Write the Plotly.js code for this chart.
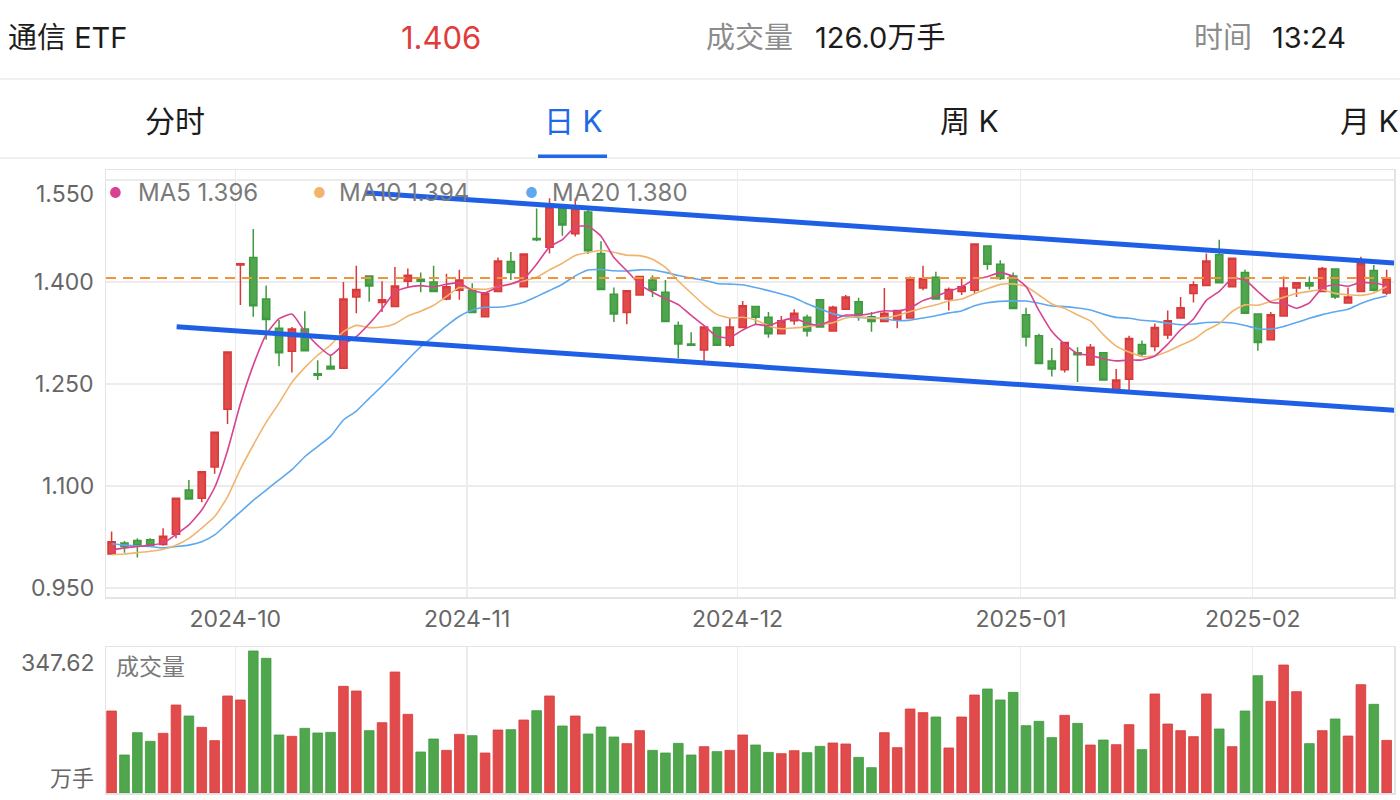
<!DOCTYPE html>
<html><head><meta charset="utf-8">
<script src="https://cdn.plot.ly/plotly-3.0.1.min.js"></script>
<style>html,body{margin:0;padding:0;background:#fff;}#chart{width:1400px;height:800px;}</style>
</head><body><div id="chart"></div>
<script>
// ---------- data ----------
const dates = [
'2024-09-13','2024-09-18','2024-09-19','2024-09-20','2024-09-23','2024-09-24','2024-09-25','2024-09-26','2024-09-27','2024-09-30',
'2024-10-08','2024-10-09','2024-10-10','2024-10-11','2024-10-14','2024-10-15','2024-10-16','2024-10-17','2024-10-18','2024-10-21',
'2024-10-22','2024-10-23','2024-10-24','2024-10-25','2024-10-28','2024-10-29','2024-10-30','2024-10-31',
'2024-11-01','2024-11-04','2024-11-05','2024-11-06','2024-11-07','2024-11-08','2024-11-11','2024-11-12','2024-11-13','2024-11-14',
'2024-11-15','2024-11-18','2024-11-19','2024-11-20','2024-11-21','2024-11-22','2024-11-25','2024-11-26','2024-11-27','2024-11-28','2024-11-29',
'2024-12-02','2024-12-03','2024-12-04','2024-12-05','2024-12-06','2024-12-09','2024-12-10','2024-12-11','2024-12-12','2024-12-13',
'2024-12-16','2024-12-17','2024-12-18','2024-12-19','2024-12-20','2024-12-23','2024-12-24','2024-12-25','2024-12-26','2024-12-27',
'2024-12-30','2024-12-31',
'2025-01-02','2025-01-03','2025-01-06','2025-01-07','2025-01-08','2025-01-09','2025-01-10','2025-01-13','2025-01-14','2025-01-15',
'2025-01-16','2025-01-17','2025-01-20','2025-01-21','2025-01-22','2025-01-23','2025-01-24','2025-01-27',
'2025-02-05','2025-02-06','2025-02-07','2025-02-10','2025-02-11','2025-02-12','2025-02-13','2025-02-14','2025-02-17','2025-02-18','2025-02-19'
];
const openP = [
1.000,1.016,1.020,1.021,1.014,1.029,1.094,1.082,1.128,1.213,
1.425,1.436,1.375,1.332,1.298,1.331,1.265,1.276,1.273,1.378,
1.409,1.370,1.364,1.401,1.404,1.400,1.375,1.388,
1.388,1.349,1.386,1.430,1.393,1.464,1.451,1.508,1.471,1.503,
1.442,1.382,1.355,1.381,1.403,1.385,1.336,1.309,1.300,1.333,1.307,
1.333,1.364,1.348,1.324,1.343,1.348,1.374,1.328,1.360,1.371,
1.349,1.342,1.344,1.347,1.391,1.407,1.375,1.386,1.388,1.453,
1.426,1.409,
1.352,1.321,1.284,1.271,1.296,1.278,1.296,1.240,1.257,1.308,
1.305,1.322,1.347,1.383,1.395,1.440,1.393,1.414,
1.353,1.315,1.350,1.391,1.399,1.386,1.419,1.369,1.386,1.417,1.384
];
const highP = [
1.033,1.019,1.023,1.023,1.038,1.083,1.109,1.122,1.180,1.298,
1.427,1.478,1.395,1.344,1.334,1.357,1.285,1.293,1.400,1.424,
1.410,1.401,1.422,1.420,1.414,1.424,1.412,1.418,
1.398,1.384,1.436,1.444,1.442,1.508,1.523,1.510,1.523,1.506,
1.460,1.392,1.388,1.409,1.410,1.403,1.342,1.326,1.335,1.334,1.347,
1.372,1.365,1.356,1.350,1.360,1.352,1.375,1.365,1.381,1.377,
1.356,1.391,1.359,1.408,1.424,1.415,1.392,1.405,1.457,1.454,
1.432,1.414,
1.362,1.324,1.303,1.312,1.304,1.309,1.297,1.272,1.321,1.314,
1.339,1.358,1.378,1.401,1.442,1.462,1.436,1.418,
1.354,1.356,1.408,1.400,1.408,1.422,1.420,1.392,1.437,1.425,1.418
];
const lowP = [
1.000,1.002,0.995,1.011,1.012,1.023,1.080,1.076,1.118,1.191,
1.366,1.349,1.315,1.276,1.267,1.299,1.256,1.271,1.272,1.354,
1.371,1.356,1.363,1.391,1.385,1.385,1.373,1.374,
1.355,1.349,1.385,1.403,1.392,1.460,1.442,1.468,1.467,1.441,
1.389,1.341,1.338,1.380,1.378,1.341,1.288,1.306,1.284,1.306,1.304,
1.332,1.338,1.318,1.323,1.337,1.320,1.333,1.328,1.359,1.343,
1.327,1.341,1.332,1.346,1.388,1.374,1.358,1.381,1.383,1.418,
1.403,1.361,
1.305,1.280,1.261,1.267,1.253,1.277,1.255,1.239,1.240,1.291,
1.298,1.316,1.346,1.370,1.394,1.398,1.392,1.353,
1.299,1.314,1.349,1.378,1.389,1.385,1.375,1.368,1.385,1.386,1.381
];
const closeP = [
1.018,1.011,1.012,1.013,1.026,1.082,1.081,1.121,1.179,1.297,
1.427,1.365,1.345,1.296,1.331,1.299,1.263,1.272,1.375,1.389,
1.394,1.374,1.394,1.410,1.401,1.386,1.393,1.403,
1.355,1.383,1.431,1.414,1.441,1.462,1.510,1.484,1.508,1.446,
1.389,1.353,1.387,1.408,1.388,1.342,1.309,1.307,1.334,1.307,1.334,
1.365,1.348,1.324,1.343,1.354,1.328,1.334,1.363,1.378,1.352,
1.342,1.354,1.358,1.404,1.405,1.375,1.389,1.393,1.456,1.426,
1.405,1.361,
1.319,1.280,1.272,1.311,1.293,1.304,1.256,1.256,1.317,1.294,
1.333,1.343,1.362,1.396,1.431,1.399,1.435,1.354,
1.311,1.352,1.391,1.399,1.394,1.420,1.378,1.378,1.427,1.388,1.406
];
const volume = [
200.7,93.0,147.7,126.5,146.1,215.4,188.5,160.7,128.1,237.5,
227.7,347.62,329.7,142.0,138.7,158.3,146.9,148.5,261.1,249.7,
152.6,172.1,296.2,192.6,100.4,132.2,104.4,143.6,
140.3,97.9,154.2,155.0,178.7,201.5,237.5,164.0,188.5,144.4,
161.6,137.1,120.8,152.6,104.4,97.9,121.6,93.0,113.4,101.2,104.4,
142.0,117.5,99.5,96.3,103.6,98.7,114.2,122.4,120.0,87.3,
62.0,147.7,111.0,205.6,196.7,186.0,110.2,186.0,239.9,254.6,
227.7,246.4,
164.8,175.4,135.5,190.1,170.5,117.5,129.7,118.3,167.3,106.1,
242.4,168.9,152.6,137.9,242.4,156.7,113.4,200.7,
287.2,224.4,313.3,248.1,120.8,152.6,181.2,139.5,265.2,217.1,128.9
];
// moving-average values for the first candles (window starts before the visible data)
const ma5Head  = [1.006,1.009,1.011,1.013];
const ma10Head = [0.999,1.000,1.002,1.004,1.007,1.013,1.023,1.038,1.055];
const ma20Head = [1.015,1.013,1.012,1.011,1.009,1.011,1.013,1.018,1.028,1.045,
                  1.062,1.079,1.094,1.109,1.124,1.143,1.158,1.173,1.197];
const maNames  = ['MA5','MA10','MA20'];
const maLabels = ['1.396','1.394','1.380'];
const lastPrice = 1.406;
const priceTicks = [0.950,1.100,1.250,1.400,1.550];
const volMaxLabel = '347.62';
// trend lines drawn on the chart: [candle index, price]
const trendUpper = [[19.67,1.5313],[100.03,1.4275]];
const trendLower = [[5.05,1.3343],[100.03,1.2107]];

// ---------- helpers ----------
const W = 1400, H = 800;
const px = v => v / W;
const py = v => 1 - v / H;
const idx = dates.map((d, i) => i);
function movingAvg(n, head) {
  return closeP.map((c, i) => {
    if (i < n - 1) return head[i];
    let s = 0; for (let k = i - n + 1; k <= i; k++) s += closeP[k];
    return s / n;
  });
}
const ma5 = movingAvg(5, ma5Head), ma10 = movingAvg(10, ma10Head), ma20 = movingAvg(20, ma20Head);

// month ticks: just left of the first candle of each month
const tickVals = [], tickText = [];
dates.forEach((d, i) => {
  if (i > 0 && d.slice(0, 7) !== dates[i - 1].slice(0, 7)) { tickVals.push(i - 0.4); tickText.push(d.slice(0, 7)); }
});

const RED = '#e24b4b', RED_L = '#d83a3a', GREEN = '#4fa64d', GREEN_L = '#3f9a3f';
const C_MA5 = '#d8438f', C_MA10 = '#f1b46d', C_MA20 = '#5ea8ee';
const GRID = '#ececec', BORDER = '#e4e4e4';
const FONT = "Inter, 'Noto Sans CJK SC', 'Noto Sans', sans-serif";

const traces = [
  { type: 'candlestick', x: idx, open: openP, high: highP, low: lowP, close: closeP,
    xaxis: 'x', yaxis: 'y', whiskerwidth: 0, hoverinfo: 'skip', showlegend: false,
    increasing: { line: { color: RED_L, width: 1.5 }, fillcolor: RED },
    decreasing: { line: { color: GREEN_L, width: 1.5 }, fillcolor: GREEN } },
  { type: 'scatter', mode: 'lines', x: idx, y: ma20, xaxis: 'x', yaxis: 'y', hoverinfo: 'skip', showlegend: false,
    line: { color: C_MA20, width: 1.6, shape: 'spline', smoothing: 0.5 } },
  { type: 'scatter', mode: 'lines', x: idx, y: ma10, xaxis: 'x', yaxis: 'y', hoverinfo: 'skip', showlegend: false,
    line: { color: C_MA10, width: 1.6, shape: 'spline', smoothing: 0.5 } },
  { type: 'scatter', mode: 'lines', x: idx, y: ma5, xaxis: 'x', yaxis: 'y', hoverinfo: 'skip', showlegend: false,
    line: { color: C_MA5, width: 1.6, shape: 'spline', smoothing: 0.5 } },
  { type: 'bar', x: idx, y: volume, xaxis: 'x2', yaxis: 'y2', hoverinfo: 'skip', showlegend: false,
    marker: { color: closeP.map((c, i) => c >= openP[i] ? RED : GREEN),
              line: { color: closeP.map((c, i) => c >= openP[i] ? RED_L : GREEN_L), width: 0.8 } } }
];

const xDomain = [px(106), px(1394)];
const xRange = [-0.435, 99.57];
const volTop = 347.62 * 146 / 142;

const ann = [];
function addText(text, x, y, size, color, anchor, extra) {
  ann.push(Object.assign({ text, x: px(x), y: py(y), xref: 'paper', yref: 'paper', xanchor: anchor || 'left', yanchor: 'middle',
    showarrow: false, font: { size, color, family: FONT } }, extra || {}));
}
// header
addText('通信 ETF', 6, 37, 29, '#1c1c1c');
addText('1.406', 441, 37, 31, '#e03c3c', 'center');
addText('成交量', 704, 37, 29, '#8c8c8c');
addText('126.0万手', 813, 37, 29, '#1c1c1c');
addText('时间', 1192, 37, 29, '#8c8c8c');
addText('13:24', 1270, 37, 29, '#1c1c1c');
// tabs
addText('分时', 175, 121, 30, '#1c1c1c', 'center');
addText('日 K', 573, 121, 30, '#2068e6', 'center');
addText('周 K', 969, 121, 30, '#1c1c1c', 'center');
addText('月 K', 1338, 121, 30, '#1c1c1c');
// MA legend
const legendX = [[115, 136], [319, 337], [531, 550]];
const legendC = [C_MA5, C_MA10, C_MA20];
maNames.forEach((n, k) => {
  addText('●', legendX[k][0], 192, 14, legendC[k], 'center');
  addText(n + ' ' + maLabels[k], legendX[k][1], 193, 24, '#7a7a7a');
});
// price axis labels (placed through the y axis scale)
priceTicks.forEach(v => {
  ann.push({ text: v.toFixed(3), x: px(96), xref: 'paper', y: v, yref: 'y', xanchor: 'right', yanchor: 'middle',
    yshift: v === 1.55 ? -14 : 0, showarrow: false, font: { size: 23, color: '#666', family: FONT } });
});
// volume panel labels
addText(volMaxLabel, 97, 663, 23, '#666', 'right');
addText('万手', 96, 778, 22, '#666', 'right');
addText('成交量', 114, 667, 23, '#7a7a7a');

const shapes = [
  { type: 'line', xref: 'paper', yref: 'paper', x0: 0, x1: 1, y0: py(79), y1: py(79), line: { color: '#ebebeb', width: 1.5 } },
  { type: 'line', xref: 'paper', yref: 'paper', x0: 0, x1: 1, y0: py(158), y1: py(158), line: { color: '#ebebeb', width: 1.5 } },
  { type: 'rect', xref: 'paper', yref: 'paper', x0: px(538), x1: px(607), y0: py(158), y1: py(154.5), fillcolor: '#2068e6', line: { width: 0 } },
  { type: 'line', xref: 'x domain', yref: 'y', x0: 0, x1: 1, y0: lastPrice, y1: lastPrice,
    line: { color: '#f0943a', width: 2, dash: '10px,7px' } },
  { type: 'line', xref: 'x', yref: 'y', x0: trendUpper[0][0], y0: trendUpper[0][1], x1: trendUpper[1][0], y1: trendUpper[1][1],
    line: { color: '#1f5fe6', width: 5 } },
  { type: 'line', xref: 'x', yref: 'y', x0: trendLower[0][0], y0: trendLower[0][1], x1: trendLower[1][0], y1: trendLower[1][1],
    line: { color: '#1f5fe6', width: 5 } }
];

const layout = {
  width: W, height: H, margin: { l: 0, r: 0, t: 0, b: 0 },
  paper_bgcolor: '#fff', plot_bgcolor: '#fff',
  font: { family: FONT, color: '#666' },
  showlegend: false, boxgap: 0.2, bargap: 0.25, hovermode: false,
  xaxis: { domain: xDomain, range: xRange, anchor: 'y', tickmode: 'array', tickvals: tickVals, ticktext: tickText,
    showgrid: true, gridcolor: GRID, gridwidth: 1.2, zeroline: false, showline: true, mirror: true, linecolor: BORDER, linewidth: 1.5,
    ticks: '', ticklabelstandoff: 1, tickfont: { size: 23, color: '#666', family: FONT }, rangeslider: { visible: false }, fixedrange: true },
  yaxis: { domain: [py(597), py(170)], range: [0.93676, 1.56471], anchor: 'x', tickmode: 'array', tickvals: priceTicks,
    showticklabels: false, showgrid: true, gridcolor: GRID, gridwidth: 1.2, zeroline: false, showline: true, mirror: true, linecolor: BORDER, linewidth: 1.5, fixedrange: true },
  xaxis2: { domain: xDomain, range: xRange, anchor: 'y2', tickmode: 'array', tickvals: tickVals, showticklabels: false,
    showgrid: true, gridcolor: GRID, gridwidth: 1.2, zeroline: false, showline: true, mirror: true, linecolor: BORDER, linewidth: 1.5, ticks: '', fixedrange: true },
  yaxis2: { domain: [py(793), py(647)], range: [0, volTop], anchor: 'x2', showticklabels: false, showgrid: false,
    zeroline: false, showline: true, mirror: true, linecolor: BORDER, linewidth: 1.5, fixedrange: true },
  annotations: ann, shapes: shapes
};

Plotly.newPlot('chart', traces, layout, { displayModeBar: false, staticPlot: true });
</script>
</body></html>
